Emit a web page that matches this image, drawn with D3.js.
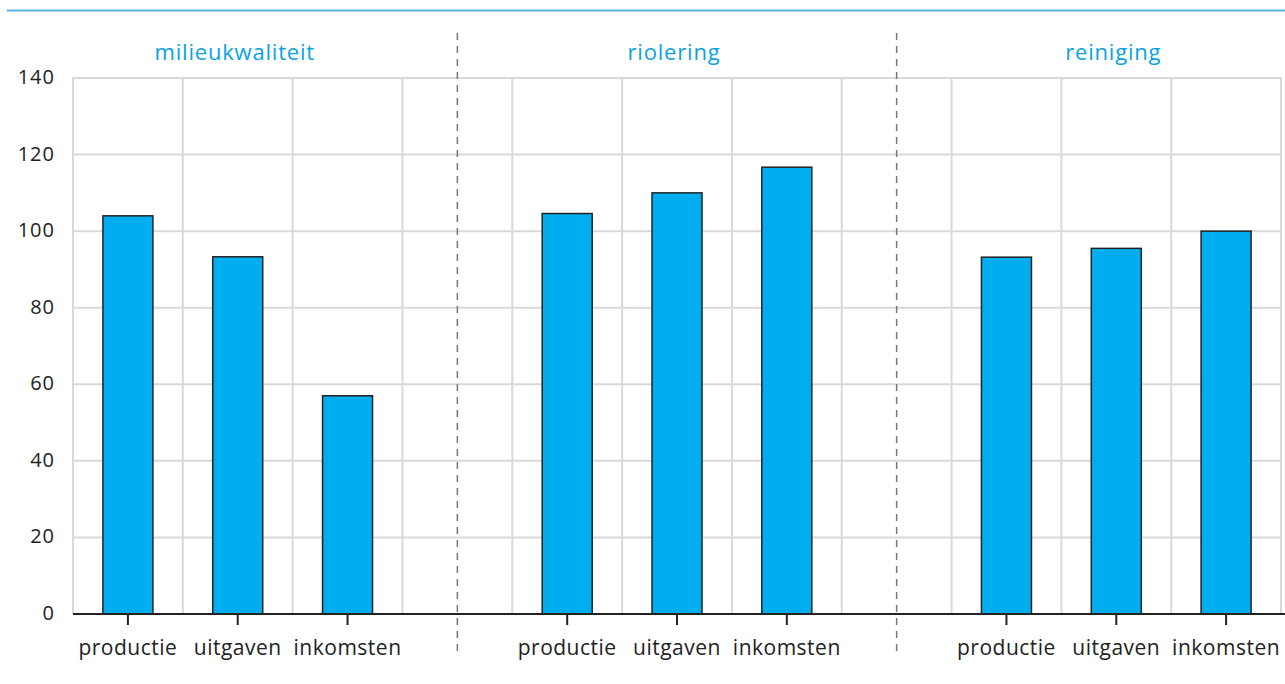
<!DOCTYPE html>
<html>
<head>
<meta charset="utf-8">
<script src="https://cdn.jsdelivr.net/npm/d3@7"></script>
<style>
	body { margin: 0; background: #fff; }
	svg { display: block; font-family: "Open Sans", "Noto Sans", sans-serif; }
</style>
</head>
<body>
<svg id="chart" width="1285" height="684"></svg>
<script>
"use strict";

// data
const panels = ["milieukwaliteit", "riolering", "reiniging"];
const categories = ["productie", "uitgaven", "inkomsten"];
const milieukwaliteit = [104.0, 93.3, 57.0];
const riolering = [104.6, 110.0, 116.7];
const reiniging = [93.2, 95.5, 100.0];
const yTicks = [0, 20, 40, 60, 80, 100, 120, 140];

const seriesByPanel = [milieukwaliteit, riolering, reiniging];

(function()
{
	let svg = d3.select("svg#chart");
	let left = 73, right = 1281, top = 78, bottom = 614;

	//11 slots: 3 bars, half gap, divider, half gap ...
	let x = d3.scaleLinear().domain([0, 11]).range([left, right]);
	let y = d3.scaleLinear().domain([0, 140]).range([bottom, top]);
	let slot = function(p, c) { return p * 4 + c + 0.5; };
	let barW = 50;

	//top rule
	svg.append("line")
		.attr("x1", 7).attr("x2", 1285)
		.attr("y1", 10.5).attr("y2", 10.5)
		.attr("stroke", "#5ab4e0")
		.attr("stroke-width", 2);

	//grid
	let grid = svg.append("g")
		.attr("stroke", "#d9d9d9")
		.attr("stroke-width", 2);
	for (let t of yTicks)
	{
		if (t === 0) continue;
		grid.append("line")
			.attr("x1", left).attr("x2", right)
			.attr("y1", y(t)).attr("y2", y(t));
	}
	for (let i = 0; i <= 11; ++i)
	{
		grid.append("line")
			.attr("x1", x(i)).attr("x2", x(i))
			.attr("y1", top - 1).attr("y2", bottom);
	}

	//y labels
	svg.append("g")
		.attr("font-size", 20)
		.attr("letter-spacing", 1)
		.attr("fill", "#222")
		.attr("text-anchor", "end")
		.selectAll("text")
		.data(yTicks)
		.join("text")
		.attr("x", 55)
		.attr("y", function(d) { return y(d); })
		.attr("dy", "0.3em")
		.text(function(d) { return d; });

	//panel dividers
	for (let d of [3.5, 7.5])
	{
		svg.append("line")
			.attr("x1", x(d)).attr("x2", x(d))
			.attr("y1", 33).attr("y2", 656)
			.attr("stroke", "#777")
			.attr("stroke-width", 1.5)
			.attr("stroke-dasharray", "7,6");
	}

	//bars, ticks and labels
	let bars = svg.append("g")
		.attr("fill", "#00aeef")
		.attr("stroke", "#222")
		.attr("stroke-width", 1.5);
	let labels = svg.append("g")
		.attr("font-size", 21)
		.attr("letter-spacing", 0.5)
		.attr("fill", "#222")
		.attr("text-anchor", "middle");
	for (let p = 0; p < panels.length; ++p)
	{
		let values = seriesByPanel[p];
		for (let c = 0; c < categories.length; ++c)
		{
			let cx = x(slot(p, c));
			bars.append("rect")
				.attr("x", cx - barW / 2)
				.attr("y", y(values[c]))
				.attr("width", barW)
				.attr("height", y(0) - y(values[c]));
			svg.append("line")
				.attr("x1", cx).attr("x2", cx)
				.attr("y1", bottom).attr("y2", bottom + 11)
				.attr("stroke", "#222")
				.attr("stroke-width", 2);
			labels.append("text")
				.attr("x", cx)
				.attr("y", 655)
				.text(categories[c]);
		}
		svg.append("text")
			.attr("x", x(slot(p, 1)) - 3)
			.attr("y", 60)
			.attr("text-anchor", "middle")
			.attr("font-size", 22)
			.attr("letter-spacing", 0.8)
			.attr("fill", "#0aa3e0")
			.text(panels[p]);
	}

	//baseline
	svg.append("line")
		.attr("x1", left).attr("x2", 1285)
		.attr("y1", bottom).attr("y2", bottom)
		.attr("stroke", "#222")
		.attr("stroke-width", 2);
})();
</script>
</body>
</html>
